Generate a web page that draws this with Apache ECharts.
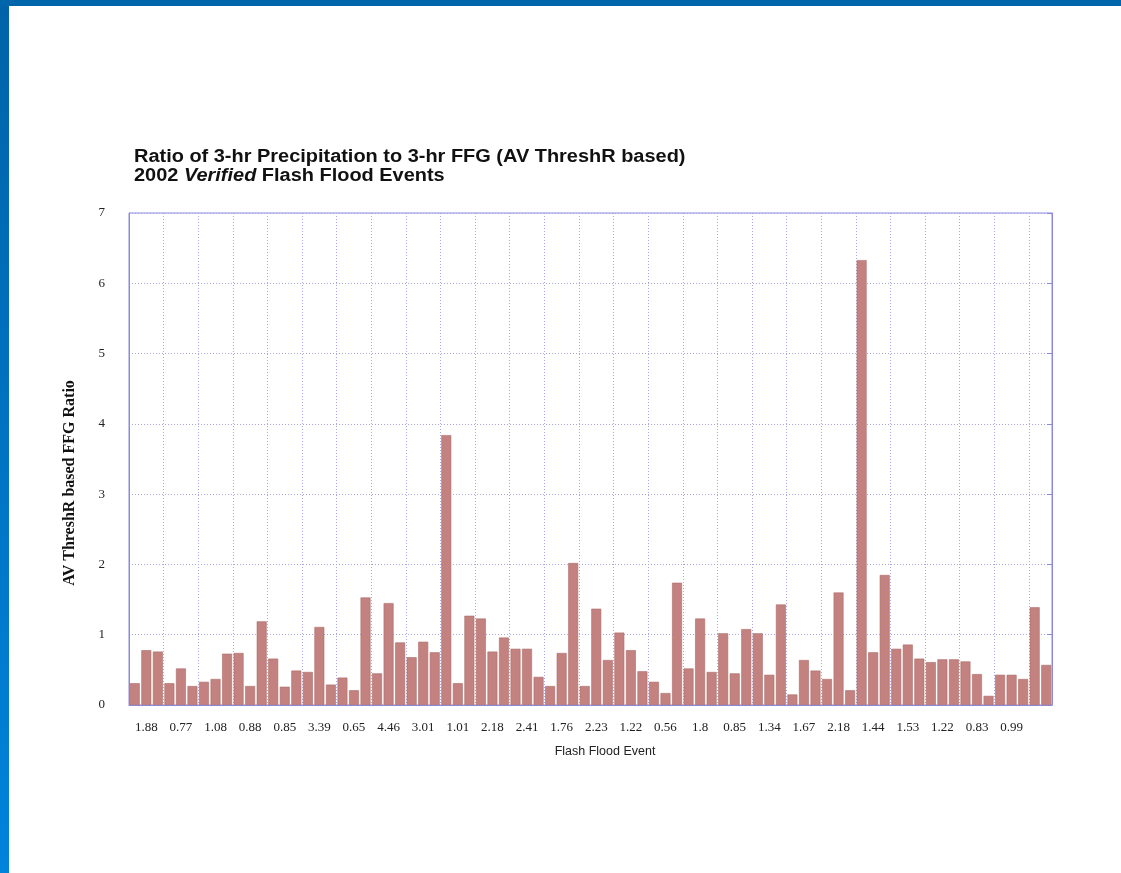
<!DOCTYPE html>
<html>
<head>
<meta charset="utf-8">
<script src="https://cdn.jsdelivr.net/npm/echarts@6/dist/echarts.min.js"></script>
<style>
  html, body { margin: 0; padding: 0; background: #ffffff; }
  #chart { width: 1121px; height: 873px; }
</style>
</head>
<body>
<div id="chart"></div>
<script>
// 3-hr precipitation / 3-hr FFG ratio for each verified flash flood event (80 events)
const ratios = [
  0.31, 0.78, 0.76, 0.31, 0.52, 0.27, 0.33, 0.37, 0.73, 0.74,
  0.27, 1.19, 0.66, 0.26, 0.49, 0.47, 1.11, 0.29, 0.39, 0.21,
  1.53, 0.45, 1.45, 0.89, 0.68, 0.90, 0.75, 3.84, 0.31, 1.27,
  1.23, 0.76, 0.96, 0.80, 0.80, 0.40, 0.27, 0.74, 2.02, 0.27,
  1.37, 0.64, 1.03, 0.78, 0.48, 0.33, 0.17, 1.74, 0.52, 1.23,
  0.47, 1.02, 0.45, 1.08, 1.02, 0.43, 1.43, 0.15, 0.64, 0.49,
  0.37, 1.60, 0.21, 6.33, 0.75, 1.85, 0.80, 0.86, 0.66, 0.61,
  0.65, 0.65, 0.62, 0.44, 0.13, 0.43, 0.43, 0.37, 1.39, 0.57
];

// Labels printed under the middle event of each group of three
const tickLabels = [
  '1.88', '0.77', '1.08', '0.88', '0.85', '3.39', '0.65', '4.46', '3.01',
  '1.01', '2.18', '2.41', '1.76', '2.23', '1.22', '0.56', '1.8', '0.85',
  '1.34', '1.67', '2.18', '1.44', '1.53', '1.22', '0.83', '0.99'
];

const yTicks = [0, 1, 2, 3, 4, 5, 6, 7];

// Event numbers used as category keys
const events = ratios.map((_, i) => String(i + 1));

const chart = echarts.init(document.getElementById('chart'), null, { renderer: 'canvas' });

const gridColor = '#a6a6e4';
const frameColor = '#8a8ade';
const titleFont = 'Liberation Sans, Arial, sans-serif';

chart.setOption({
  animation: false,
  backgroundColor: '#ffffff',
  grid: {
    left: 129,
    top: 213,
    right: 69,
    bottom: 168,
    show: true,
    borderColor: frameColor,
    borderWidth: 1,
    backgroundColor: 'transparent'
  },
  xAxis: {
    type: 'category',
    data: events,
    boundaryGap: true,
    axisLine: { show: true, lineStyle: { color: frameColor, width: 1 } },
    axisTick: { show: false },
    axisLabel: {
      interval: (i) => i % 3 === 1,
      formatter: (v, i) => tickLabels[(i - 1) / 3] || '',
      fontFamily: 'Liberation Serif, Times New Roman, serif',
      fontSize: 13,
      color: '#222',
      margin: 16
    },
    splitLine: {
      show: true,
      interval: (i) => i % 3 === 0,
      lineStyle: { color: gridColor, type: [1, 2], width: 1 }
    }
  },
  yAxis: [{
    type: 'value',
    min: yTicks[0],
    max: yTicks[yTicks.length - 1],
    interval: 1,
    axisLine: { show: true, lineStyle: { color: frameColor, width: 1 } },
    axisTick: { show: false },
    axisLabel: {
      fontFamily: 'Liberation Serif, Times New Roman, serif',
      fontSize: 13,
      color: '#222',
      margin: 24
    },
    splitLine: { show: true, lineStyle: { color: gridColor, type: [1, 2], width: 1 } }
  }, {
    // right-hand frame carries short inward ticks
    type: 'value',
    position: 'right',
    min: yTicks[0],
    max: yTicks[yTicks.length - 1],
    interval: 1,
    axisLine: { show: true, lineStyle: { color: frameColor, width: 1 } },
    axisTick: { show: true, inside: true, length: 5, lineStyle: { color: frameColor } },
    axisLabel: { show: false },
    splitLine: { show: false }
  }],
  series: [{
    type: 'bar',
    data: ratios,
    barCategoryGap: '14%',
    itemStyle: { color: '#c3827f', borderColor: '#ab6b69', borderWidth: 0.6 }
  }],
  graphic: [
    {
      type: 'rect',
      shape: { x: 0, y: 0, width: 9, height: 873 },
      style: {
        fill: new echarts.graphic.LinearGradient(0, 0, 0, 1, [
          { offset: 0, color: '#0063a8' },
          { offset: 1, color: '#0083dc' }
        ])
      },
      z: 100
    },
    {
      type: 'rect',
      shape: { x: 0, y: 0, width: 1121, height: 6 },
      style: { fill: '#0066ac' },
      z: 100
    },
    {
      // two-line heading, set in a wide bold sans face
      type: 'text',
      x: 134,
      y: 148,
      scaleX: 1.108,
      style: {
        text: '{n|Ratio of 3-hr Precipitation to 3-hr FFG (AV ThreshR based)}\n{n|2002 }{i|Verified}{n| Flash Flood Events}',
        rich: {
          n: { fontFamily: titleFont, fontWeight: 'bold', fontSize: 18, fill: '#111', lineHeight: 18.5 },
          i: { fontFamily: titleFont, fontWeight: 'bold', fontStyle: 'italic', fontSize: 18, fill: '#111', lineHeight: 18.5 }
        },
        align: 'left',
        verticalAlign: 'top'
      }
    },
    {
      type: 'text',
      x: 70,
      y: 483,
      rotation: Math.PI / 2,
      style: {
        text: 'AV ThreshR based FFG Ratio',
        fontFamily: 'Liberation Serif, Times New Roman, serif',
        fontWeight: 'bold',
        fontSize: 16,
        fill: '#111',
        align: 'center',
        verticalAlign: 'middle'
      }
    },
    {
      type: 'text',
      x: 605,
      y: 752,
      style: {
        text: 'Flash Flood Event',
        fontFamily: 'Liberation Sans, Arial, sans-serif',
        fontSize: 12.5,
        fill: '#222',
        align: 'center',
        verticalAlign: 'middle'
      }
    }
  ]
});
</script>
</body>
</html>
